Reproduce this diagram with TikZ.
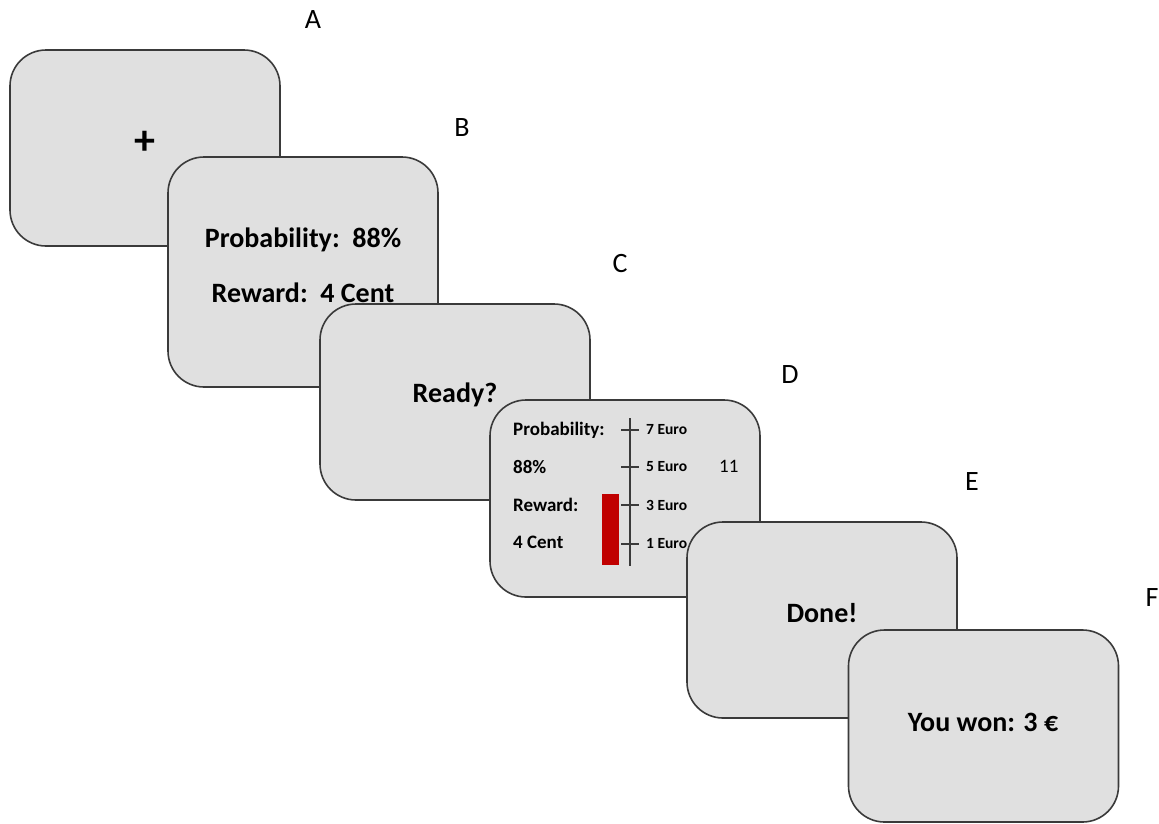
\documentclass[tikz,border=0pt]{standalone}
\usepackage{fontspec}
\setmainfont{Carlito}
\usepackage{xcolor}
\usepackage{tikz}

\definecolor{screengray}{HTML}{E0E0E0}
\definecolor{screenline}{HTML}{3A3A3A}
\definecolor{barred}{HTML}{C00000}

\begin{document}
\begin{tikzpicture}[x=1pt, y=-1pt]
    \tikzstyle{screen} = [rectangle, draw=screenline, fill=screengray, line width=1.6pt, rounded corners=36pt, minimum width=270pt, minimum height=196pt, inner sep=0pt]
    \tikzstyle{tag} = [font=\fontsize{28}{34}\selectfont]
    \tikzstyle{msg} = [font=\bfseries\fontsize{28}{34}\selectfont]
    \tikzstyle{small} = [font=\bfseries\fontsize{19}{23}\selectfont, anchor=west, inner sep=0pt]
    \tikzstyle{euro} = [font=\bfseries\fontsize{15.5}{19}\selectfont, anchor=west, inner sep=0pt]
    \useasboundingbox (0,0) rectangle (1159,823);
    % panel labels
    \node[tag] (tA) at (313,20) {A};
    \node[tag] (tB) at (462,128) {B};
    \node[tag] (tC) at (620,264) {C};
    \node[tag] (tD) at (790,375) {D};
    \node[tag] (tE) at (972,482) {E};
    \node[tag] (tF) at (1152,598) {F};
    % fixation
    \node[screen] (sA) at (145,148) {};
    \node[font=\bfseries\fontsize{42}{46}\selectfont] (cross) at (145,143) {+};
    % cue
    \node[screen, minimum height=230pt] (sB) at (303,272) {};
    \node[msg] (prob) at (303,240) {Probability:\ \ 88\%};
    \node[msg] (rew) at (303,293) {Reward:\ \ 4 Cent};
    % ready
    \node[screen] (sC) at (455,402) {};
    \node[msg] (ready) at (455,395) {Ready?};
    % task screen
    \node[screen, minimum height=197pt] (sD) at (625,498.5) {};
    \node[small] (dprob) at (513,430) {Probability:};
    \node[small] (dpct) at (513,467) {88\%};
    \node[small] (drew) at (513,505) {Reward:};
    \node[small] (dcent) at (513,542) {4 Cent};
    \node[small, font=\fontsize{19}{23}\selectfont] (count) at (719,466) {11};
    \fill[barred] (602,494) rectangle (619,565);
    \coordinate (axtop) at (630,418);
    \coordinate (axbot) at (630,566);
    \draw[screenline, line width=1.2pt] (axtop) -- (axbot);
    \foreach \v/\y in {7/430, 5/467, 3/505, 1/544} {
        \draw[screenline, line width=1.2pt] (621,\y) -- (639,\y);
        \node[euro] (e\v) at (646,\y) {\v\ Euro};
    }
    % done
    \node[screen] (sE) at (822,620) {};
    \node[msg] (done) at (822,613) {Done!};
    % outcome
    \node[screen, minimum height=192pt] (sF) at (983.5,726) {};
    \node[msg] (won) at (983,722) {You won: 3 €};
\end{tikzpicture}
\end{document}
